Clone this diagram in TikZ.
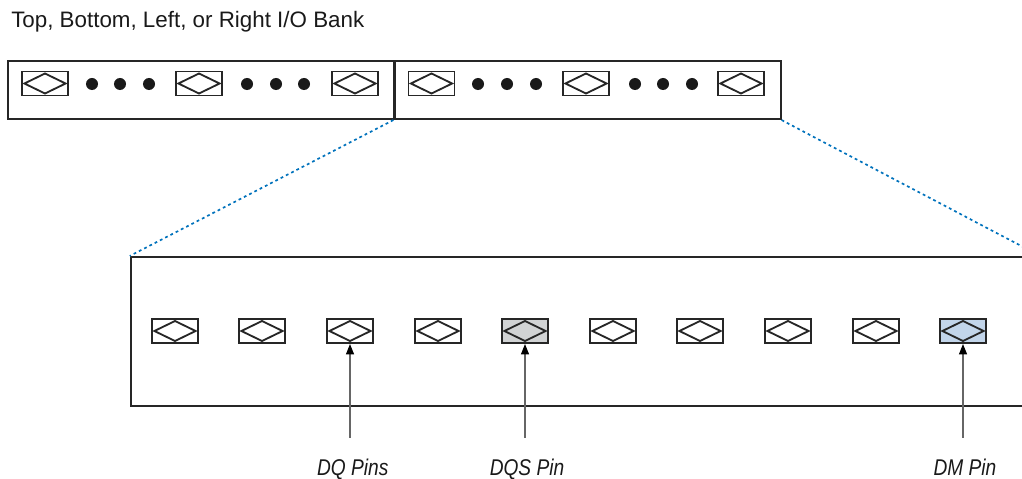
\documentclass[tikz,border=0pt]{standalone}
\usepackage{fontspec}
\setmainfont{Liberation Sans}
\newfontfamily\condfont[FakeStretch=0.84]{Liberation Sans}
\usetikzlibrary{arrows.meta,positioning,calc}

\definecolor{dqsgray}{RGB}{209,211,212}
\definecolor{dmblue}{RGB}{194,213,234}
\definecolor{zoomblue}{RGB}{0,114,188}

\begin{document}
\begin{tikzpicture}[x=0.025cm, y=-0.025cm,
  bank/.style={draw=black!85, line width=1.5pt, minimum width=9.65cm, minimum height=1.45cm, inner sep=0pt},
  iopin/.style={draw=black!85, line width=1.4pt, fill=white, minimum width=1.15cm, minimum height=0.6cm, inner sep=0pt,
    path picture={\draw[line width=1.3pt, black!85] ([xshift=0.06cm]path picture bounding box.west) -- ([yshift=-0.05cm]path picture bounding box.north) -- ([xshift=-0.06cm]path picture bounding box.east) -- ([yshift=0.05cm]path picture bounding box.south) -- cycle;}},
  bankdot/.style={circle, fill=black!90, minimum size=0.3cm, inner sep=0pt},
  zoomline/.style={zoomblue, line width=1.2pt, dash pattern=on 2pt off 2.2pt},
  pinarrow/.style={draw=black!60, line width=0.8pt, -{Triangle[length=2.6mm, width=2mm, color=black]}},
  pinlabel/.style={font=\condfont\itshape\fontsize{16.2}{19}\selectfont, text=black!90, inner sep=0pt}]
\useasboundingbox (0,0) rectangle (1022,479);
\clip (0,0) rectangle (1022,479);
\node[font=\fontsize{15.9}{19}\selectfont, text=black!90, anchor=base west, inner sep=0pt] (title) at (11,28) {Top, Bottom, Left, or Right I/O Bank};
% the bank, drawn as two halves
\node[bank] (bankL) at (201,90) {};
\node[bank] (bankR) at (587.5,90) {};
\node[iopin] (lp1) at (45,83.5) {};
\node[bankdot] (ld1) at (92,84) {};
\node[bankdot] (ld2) at (120,84) {};
\node[bankdot] (ld3) at (149,84) {};
\node[iopin] (lp2) at (199,83.5) {};
\node[bankdot] (ld4) at (247,84) {};
\node[bankdot] (ld5) at (276,84) {};
\node[bankdot] (ld6) at (304,84) {};
\node[iopin] (lp3) at (355,83.5) {};
\node[iopin] (rp1) at (431.5,83.5) {};
\node[bankdot] (rd1) at (478,84) {};
\node[bankdot] (rd2) at (507,84) {};
\node[bankdot] (rd3) at (536,84) {};
\node[iopin] (rp2) at (586,83.5) {};
\node[bankdot] (rd4) at (635,84) {};
\node[bankdot] (rd5) at (663,84) {};
\node[bankdot] (rd6) at (692,84) {};
\node[iopin] (rp3) at (741,83.5) {};
% zoomed group
\node[draw=black!85, line width=1.5pt, minimum width=22.7cm, minimum height=3.725cm, inner sep=0pt] (group) at (585,331.5) {};
\draw[zoomline] (bankR.south west) -- (group.north west);
\draw[zoomline] (bankR.south east) -- (group.north east);
\node[iopin] (dq1) at (175,331) {};
\node[iopin] (dq2) at (262,331) {};
\node[iopin] (dq3) at (350,331) {};
\node[iopin] (dq4) at (438,331) {};
\node[iopin, fill=dqsgray] (dqs) at (525,331) {};
\node[iopin] (dq5) at (613,331) {};
\node[iopin] (dq6) at (700,331) {};
\node[iopin] (dq7) at (788,331) {};
\node[iopin] (dq8) at (876,331) {};
\node[iopin, fill=dmblue] (dm) at (963,331) {};
\node[pinlabel, below=2.86cm of dq3, xshift=0.07cm] (lblDQ) {DQ Pins};
\node[pinlabel, below=2.86cm of dqs, xshift=0.05cm] (lblDQS) {DQS Pin};
\node[pinlabel, below=2.86cm of dm, xshift=0.05cm] (lblDM) {DM Pin};
\draw[pinarrow, shorten <=0.52cm] (lblDQ.north -| dq3) -- (dq3.south);
\draw[pinarrow, shorten <=0.52cm] (lblDQS.north -| dqs) -- (dqs.south);
\draw[pinarrow, shorten <=0.52cm] (lblDM.north -| dm) -- (dm.south);
\end{tikzpicture}
\end{document}
